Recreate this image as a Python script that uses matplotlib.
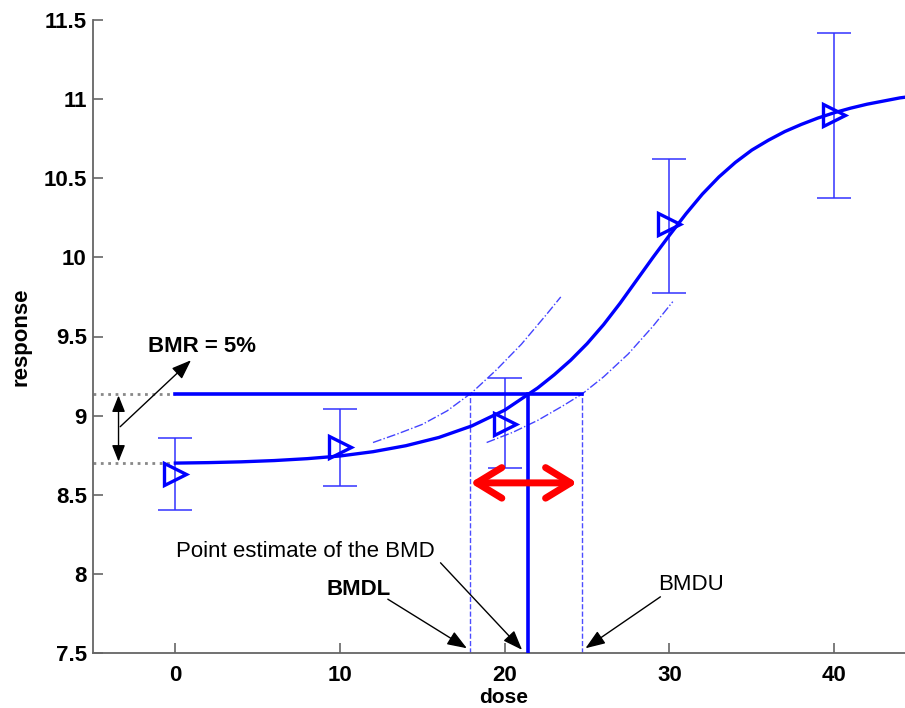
import numpy as np
import matplotlib
matplotlib.use('Agg')
import matplotlib.pyplot as plt
from matplotlib.ticker import FormatStrFormatter

plt.rcParams['font.family'] = ['Liberation Sans', 'DejaVu Sans']

# observed group means with error bars
dose = [0, 10, 20, 30, 40]
resp_mean = [8.63, 8.80, 8.95, 10.21, 10.90]
resp_low = [8.405, 8.556, 8.67, 9.775, 10.375]
resp_high = [8.86, 9.04, 9.24, 10.62, 11.42]

# fitted dose-response curve
fit_dose = [0, 2, 4, 6, 8, 10, 12, 14, 16, 18, 20, 22, 23, 24, 25, 26, 27, 28, 29,
            30, 31, 32, 33, 34, 35, 36, 37, 38, 39, 40, 41, 42, 44, 44.3]
fit_resp = [8.700, 8.703, 8.708, 8.716, 8.728, 8.745, 8.772, 8.810, 8.862, 8.935,
            9.035, 9.175, 9.258, 9.350, 9.455, 9.575, 9.710, 9.855, 10.00,
            10.14, 10.275, 10.40, 10.508, 10.60, 10.678, 10.74, 10.795, 10.84, 10.88,
            10.914, 10.943, 10.968, 11.008, 11.012]

# confidence bands (dash-dot)
upper_dose = [12, 13.5, 15, 16.5, 18, 19.5, 21, 22.5, 23.4]
upper_resp = [8.83, 8.885, 8.945, 9.03, 9.145, 9.29, 9.45, 9.635, 9.75]
lower_dose = [18.9, 20.5, 22, 23.5, 24.7, 26, 27.5, 29, 30.2]
lower_resp = [8.83, 8.895, 8.97, 9.06, 9.137, 9.245, 9.39, 9.565, 9.72]

bg = 8.70
bmr_level = 9.137
bmdl, bmd, bmdu = 17.9, 21.4, 24.7

fig = plt.figure(figsize=(9.05, 7.08), dpi=100)
ax = fig.add_axes([93 / 905, 55 / 708, (905 - 93) / 905, 633 / 708])

blue = '#0000ff'

# error bars + markers
yerr = [np.array(resp_mean) - np.array(resp_low), np.array(resp_high) - np.array(resp_mean)]
ax.errorbar(dose, resp_mean, yerr=yerr, fmt='none', ecolor='#3333ff', elinewidth=1.1,
            capsize=12, capthick=1.1, zorder=3)
ax.plot(dose, resp_mean, linestyle='none', marker='>', markersize=16, markerfacecolor='none',
        markeredgecolor=blue, markeredgewidth=2.4, zorder=4)

# fitted curve and bands
ax.plot(fit_dose, fit_resp, color=blue, lw=2.4, zorder=5, solid_joinstyle='round')
ax.plot(upper_dose, upper_resp, color='#4444ff', lw=1.0, linestyle='-.', zorder=2)
ax.plot(lower_dose, lower_resp, color='#4444ff', lw=1.0, linestyle='-.', zorder=2)

# BMR level, BMD lines
ax.plot([0, bmdu], [bmr_level, bmr_level], color=blue, lw=2.6, zorder=5)
ax.plot([bmd, bmd], [7.5, bmr_level], color=blue, lw=2.6, zorder=5)
ax.plot([bmdl, bmdl], [7.5, bmr_level], color='#4d4dff', lw=1.0, linestyle='--', zorder=2)
ax.plot([bmdu, bmdu], [7.5, bmr_level], color='#4d4dff', lw=1.0, linestyle='--', zorder=2)

# gray dotted guides
ax.plot([-5, 0], [bmr_level, bmr_level], color='#888888', lw=2, linestyle=':', zorder=2)
ax.plot([-5, 0], [bg, bg], color='#888888', lw=2, linestyle=':', zorder=2)

arrow_kw = dict(arrowstyle='-|>,head_length=1.2,head_width=0.45', color='black', lw=1,
                shrinkA=0, shrinkB=0)

# vertical double arrow showing BMR
ax.annotate('', xy=(-3.45, bmr_level - 0.01), xytext=(-3.45, bg + 0.01),
            arrowprops=dict(arrowstyle='<|-|>,head_length=1.0,head_width=0.4', color='black',
                            lw=1, shrinkA=0, shrinkB=0))
ax.annotate('', xy=(0.95, 9.35), xytext=(-3.35, 8.93), arrowprops=arrow_kw)
ax.text(-1.65, 9.434, 'BMR = 5%', fontsize=16, fontweight='bold', ha='left', va='center')

# red interval arrow
ax.annotate('', xy=(24.4, 8.575), xytext=(17.9, 8.575),
            arrowprops=dict(arrowstyle='<->,head_length=1.8,head_width=1.1', color='#ff0000',
                            lw=5, capstyle='round', joinstyle='round',
                            shrinkA=0, shrinkB=0), zorder=6)

# labels with arrows
ax.text(7.9, 8.14, 'Point estimate of the BMD', fontsize=16, ha='center', va='center')
ax.annotate('', xy=(21.05, 7.52), xytext=(16.1, 8.07), arrowprops=arrow_kw)
ax.text(11.1, 7.90, 'BMDL', fontsize=16, fontweight='bold', ha='center', va='center')
ax.annotate('', xy=(17.7, 7.53), xytext=(12.9, 7.84), arrowprops=arrow_kw)
ax.text(31.3, 7.93, 'BMDU', fontsize=16, ha='center', va='center')
ax.annotate('', xy=(24.9, 7.53), xytext=(29.45, 7.855), arrowprops=arrow_kw)

ax.set_xlim(-5, 44.3)
ax.set_ylim(7.5, 11.5)
ax.set_xticks([0, 10, 20, 30, 40])
ax.set_yticks(np.arange(7.5, 11.51, 0.5))
ax.yaxis.set_major_formatter(FormatStrFormatter('%g'))
for s in ['top', 'right']:
    ax.spines[s].set_visible(False)
for s in ['left', 'bottom']:
    ax.spines[s].set_color('#666666')
    ax.spines[s].set_linewidth(1.3)
ax.tick_params(direction='in', length=7, width=1.2, color='#666666', labelsize=16)
ax.tick_params(axis='x', pad=8.5)
ax.tick_params(axis='y', pad=4.5)
for lab in ax.get_xticklabels() + ax.get_yticklabels():
    lab.set_fontweight('bold')
ax.set_xlabel('dose', fontsize=15, fontweight='bold')
ax.set_ylabel('response', fontsize=16, fontweight='bold')
ax.xaxis.set_label_coords(0.506, -0.055)
ax.yaxis.set_label_coords(-0.076, 0.5)

fig.savefig('out.png', dpi=100)
